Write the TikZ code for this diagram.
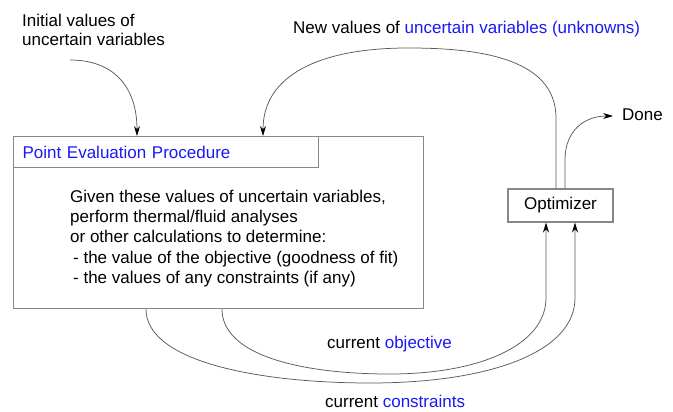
\documentclass[tikz,border=0pt]{standalone}
\usepackage{fontspec}
\setmainfont{Liberation Sans}
\usetikzlibrary{arrows.meta}

\definecolor{labelblue}{RGB}{25,25,245}
\definecolor{linegray}{RGB}{90,90,90}
\definecolor{boxgray}{RGB}{135,135,135}

\tikzset{
  box/.style={draw=boxgray,line width=1.1pt,inner sep=0pt},
  flow/.style={draw=linegray,line width=0.75pt},
  arr/.style={flow,-{Stealth[black,length=10pt,width=6pt]}},
  txt/.style={font=\fontsize{17}{20.4}\selectfont,inner sep=0pt},
}

\begin{document}
\begin{tikzpicture}[x=1pt,y=-1pt]
  \useasboundingbox (0,0) rectangle (673,412);

  % Boxes
  \node[box,anchor=north west,minimum width=410pt,minimum height=172pt] (pep) at (13,136) {};
  \node[box,txt,anchor=north west,minimum height=31pt,inner xsep=9pt,text width=287pt,
        align=left,text=labelblue] (hdr) at (pep.north west) {Point Evaluation Procedure};
  \node[txt,anchor=north west,align=left] (body) at (70,189.5)
    {Given these values of uncertain variables,\\
     perform thermal/fluid analyses\\
     or other calculations to determine:\\
     \hspace*{3pt}- the value of the objective (goodness of fit)\\
     \hspace*{3pt}- the values of any constraints (if any)};
  \node[box,txt,minimum width=105pt,minimum height=33pt] (opt) at (560.5,205.5) {Optimizer};

  % Labels
  \node[txt,anchor=north west,align=left,font=\fontsize{17}{19}\selectfont] (inittxt) at (22,13.8)
    {Initial values of\\uncertain variables};
  \node[txt,anchor=base west] (newtxt) at (293,34)
    {New values of \textcolor{labelblue}{uncertain variables (unknowns)}};
  \node[txt,anchor=base west] (donetxt) at (622,121) {Done};
  \node[txt,anchor=base west] (objtxt) at (327,348) {current \textcolor{labelblue}{objective}};
  \node[txt,anchor=base west] (contxt) at (325,407.5) {current \textcolor{labelblue}{constraints}};

  % Free ends
  \coordinate (init) at (70,60);
  \coordinate (done) at (613,116);

  % Initial values into the procedure
  \draw[arr] (init) .. controls (112,60) and (137,85) .. ([xshift=124pt]pep.north west);

  % New values back from the optimizer
  \draw[arr] ([xshift=-4.5pt]opt.north) -- (556,118)
    .. controls (556,55) and (470,48) .. (408,48)
    .. controls (320,48) and (263,75) .. ([xshift=250pt]pep.north west);

  % Done
  \draw[arr] ([xshift=4.5pt]opt.north) -- (565,160)
    .. controls (565,130) and (585,116) .. (done);

  % Objective and constraints to the optimizer
  \draw[arr] ([xshift=209pt]pep.south west)
    .. controls (222,355) and (300,374) .. (390,374)
    .. controls (480,374) and (546,345) .. (546,298) -- ([xshift=-14.5pt]opt.south);
  \draw[arr] ([xshift=133pt]pep.south west)
    .. controls (146,362) and (260,383) .. (370,383)
    .. controls (490,383) and (575,352) .. (575,298) -- ([xshift=14.5pt]opt.south);
\end{tikzpicture}
\end{document}
